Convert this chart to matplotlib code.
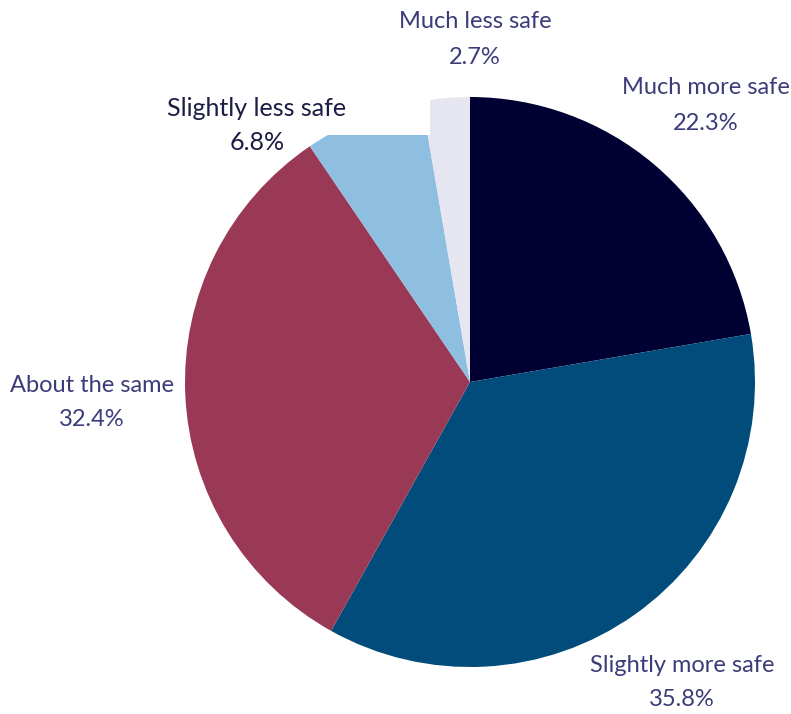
import matplotlib
matplotlib.use("Agg")
import matplotlib.pyplot as plt
from matplotlib.patches import Rectangle

categories = ["Much more safe", "Slightly more safe", "About the same",
              "Slightly less safe", "Much less safe"]
values = [22.3, 35.8, 32.4, 6.8, 2.7]
colors = ["#000033", "#014c7b", "#993955", "#8ebee0", "#e6e6f0"]
text_colors = ["#3b3c78", "#3b3c78", "#3b3c78", "#1c1c44", "#3b3c78"]
# label anchor positions in image pixels (x, y of first line)
label_pos = [(706, 88), (682, 665), (92, 385), (257, 108), (475, 22)]
label_sizes = [17, 17, 17, 18, 17]

W, H = 791, 714
fig = plt.figure(figsize=(W / 100, H / 100), dpi=100)
ax = fig.add_axes([0, 0, 1, 1])

ax.pie(values, colors=colors, startangle=90, counterclock=False,
       center=(470, H - 382), radius=285, frame=True,
       wedgeprops=dict(linewidth=0))
ax.set_xlim(0, W)
ax.set_ylim(0, H)
ax.set_aspect("equal")
ax.axis("off")

# white label background masking top of small slices
ax.add_patch(Rectangle((150, H - 135), 280, 135, facecolor="white",
                       edgecolor="none", zorder=3))

for cat, val, (x, y), tc, fs in zip(categories, values, label_pos,
                                    text_colors, label_sizes):
    ax.text(x, H - y, cat, ha="center", va="center", fontsize=fs,
            family="Lato", color=tc, zorder=4)
    ax.text(x, H - y - 35, f"{val}%", ha="center", va="center", fontsize=fs,
            family="Lato", color=tc, zorder=4)

fig.savefig("out.png", dpi=100, facecolor="white")
